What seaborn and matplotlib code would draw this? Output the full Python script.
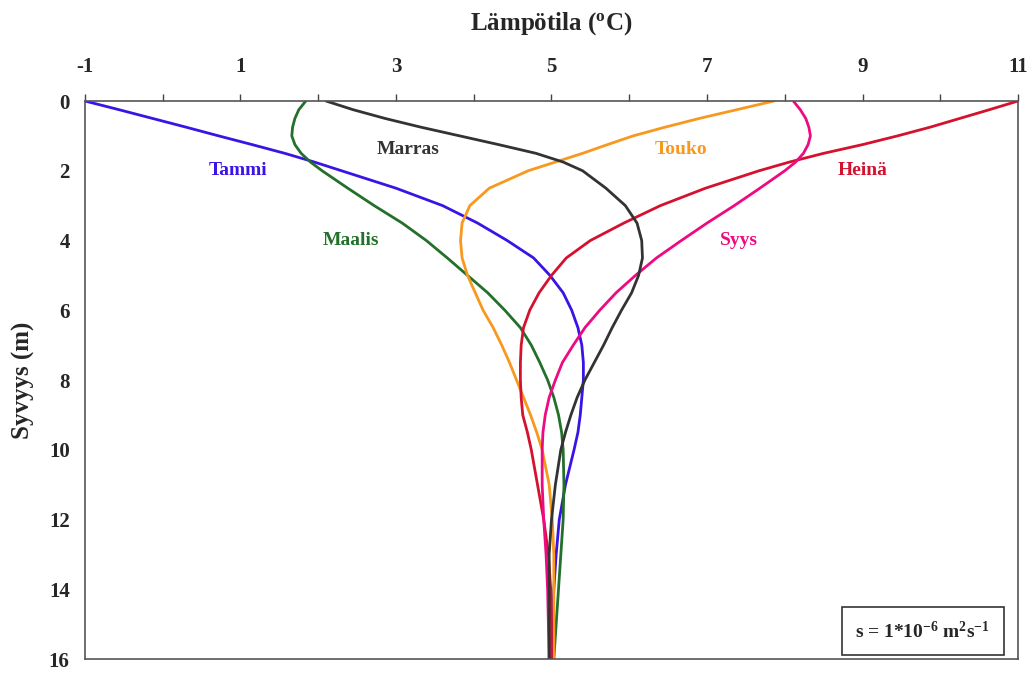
import pandas as pd
import matplotlib
matplotlib.use("Agg")
import matplotlib.pyplot as plt
import seaborn as sns

# depth (m) and temperature profiles per month
depth = [0, 0.25, 0.5, 0.75, 1.0, 1.25, 1.5, 1.75, 2.0, 2.5, 3.0, 3.5, 4.0, 4.5, 5.0, 5.5, 6.0, 6.5,
         7.0, 7.5, 8.0, 8.5, 9.0, 9.5, 10, 11, 12, 13, 14, 15, 16]

tammi = [-1.0, -0.56, -0.13, 0.3, 0.72, 1.15, 1.57, 1.95, 2.3, 3.0, 3.6, 4.05, 4.43, 4.77, 4.98, 5.15,
         5.26, 5.34, 5.39, 5.41, 5.41, 5.39, 5.37, 5.34, 5.29, 5.18, 5.1, 5.06, 5.03, 5.01, 5.0]
maalis = [1.84, 1.75, 1.7, 1.67, 1.66, 1.7, 1.78, 1.9, 2.05, 2.38, 2.72, 3.08, 3.39, 3.66, 3.92, 4.18,
          4.4, 4.6, 4.74, 4.85, 4.95, 5.03, 5.09, 5.13, 5.15, 5.16, 5.15, 5.12, 5.09, 5.06, 5.03]
touko = [7.86, 7.38, 6.9, 6.46, 6.05, 5.72, 5.4, 5.05, 4.7, 4.2, 3.95, 3.85, 3.83, 3.85, 3.92, 4.02,
         4.12, 4.25, 4.36, 4.46, 4.55, 4.64, 4.73, 4.81, 4.88, 4.97, 5.01, 5.03, 5.03, 5.03, 5.03]
heina = [11.0, 10.63, 10.25, 9.87, 9.45, 9.0, 8.5, 8.06, 7.67, 6.98, 6.4, 5.93, 5.5, 5.19, 5.0, 4.84,
         4.72, 4.64, 4.61, 4.6, 4.6, 4.61, 4.63, 4.69, 4.74, 4.82, 4.9, 4.96, 4.99, 5.0, 5.0]
syys = [8.11, 8.2, 8.27, 8.31, 8.33, 8.3, 8.24, 8.14, 8.0, 7.68, 7.35, 7.0, 6.67, 6.35, 6.08, 5.83,
        5.62, 5.43, 5.28, 5.14, 5.05, 4.97, 4.92, 4.89, 4.88, 4.88, 4.9, 4.93, 4.95, 4.96, 4.97]
marras = [2.1, 2.45, 2.86, 3.32, 3.82, 4.32, 4.8, 5.15, 5.4, 5.7, 5.95, 6.1, 6.16, 6.17, 6.12, 6.03,
          5.9, 5.78, 5.67, 5.55, 5.43, 5.33, 5.25, 5.18, 5.12, 5.05, 5.0, 4.97, 4.97, 4.97, 4.97]

months = ["Tammi", "Maalis", "Touko", "Heinä", "Syys", "Marras"]
profiles = [tammi, maalis, touko, heina, syys, marras]
colors = {"Tammi": "#3a14e6", "Maalis": "#22702a", "Touko": "#f7981f",
          "Heinä": "#d4112e", "Syys": "#ee0a80", "Marras": "#333333"}
label_pos = {"Tammi": (0.97, 2.0), "Marras": (3.15, 1.38), "Maalis": (2.42, 3.99),
             "Touko": (6.66, 1.38), "Heinä": (9.0, 2.0), "Syys": (7.41, 3.99)}

df = pd.concat([pd.DataFrame({"depth": depth, "temp": p, "month": m})
                for m, p in zip(months, profiles)], ignore_index=True)

sns.set_style("white")
plt.rcParams["font.family"] = ["Liberation Serif", "DejaVu Serif"]
plt.rcParams["font.weight"] = "bold"
plt.rcParams["mathtext.fontset"] = "custom"
plt.rcParams["mathtext.rm"] = "Liberation Serif:bold"
plt.rcParams["mathtext.it"] = "Liberation Serif:bold"
plt.rcParams["mathtext.bf"] = "Liberation Serif:bold"

fig = plt.figure(figsize=(10.35, 6.73), dpi=100)
ax = fig.add_axes([0.0821, 0.0208, 0.9015, 0.8291])

sns.lineplot(data=df, x="temp", y="depth", hue="month", palette=colors,
             sort=False, estimator=None, orient="y", linewidth=2.0,
             legend=False, ax=ax)

for m in months:
    tx, ty = label_pos[m]
    ax.text(tx, ty, m, color=colors[m], fontsize=14, fontweight="bold",
            ha="center", va="center")

ax.set_xlim(-1, 11)
ax.set_ylim(16, 0)
ax.xaxis.tick_top()
ax.xaxis.set_label_position("top")
ax.set_xticks(range(-1, 12))
ax.set_xticklabels([str(v) if v % 2 else "" for v in range(-1, 12)])
ax.set_yticks(range(0, 17, 2))
ax.tick_params(axis="both", direction="out", length=5, width=1, labelsize=15,
               color="#444444")
ax.tick_params(axis="x", pad=12)
ax.tick_params(axis="y", pad=6)
for lab in ax.get_xticklabels() + ax.get_yticklabels():
    lab.set_fontweight("bold")

ax.set_xlabel("Lämpötila ($^{\\rm o}$C)", fontsize=18, fontweight="bold", labelpad=20)
ax.set_ylabel("Syvyys (m)", fontsize=18, fontweight="bold", labelpad=10)

for s in ax.spines.values():
    s.set_color("#555555")
    s.set_linewidth(1.2)

ax.text(0.898, 0.05, "s = 1*10$^{-6}$ m$^{2}$s$^{-1}$",
        transform=ax.transAxes, fontsize=14, fontweight="bold", ha="center", va="center",
        bbox=dict(boxstyle="square,pad=0.7", facecolor="white", edgecolor="#333333", linewidth=1.2))

fig.savefig("out.png", dpi=100)
